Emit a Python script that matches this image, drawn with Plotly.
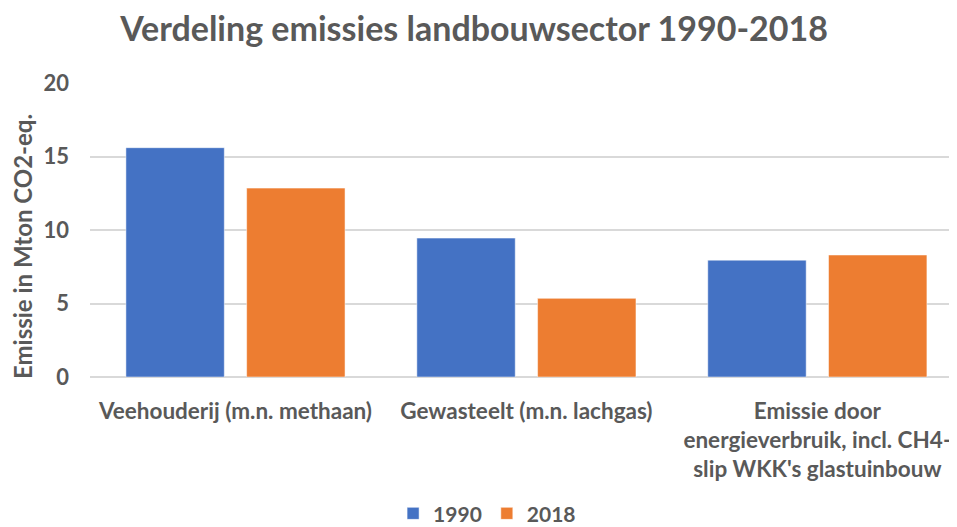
import plotly.graph_objects as go

categories = [
    "Veehouderij (m.n. methaan)",
    "Gewasteelt (m.n. lachgas)",
    "Emissie door<br>energieverbruik, incl. CH4-<br>slip WKK's glastuinbouw",
]
years = ["1990", "2018"]
values_1990 = [15.6, 9.45, 7.95]
values_2018 = [12.85, 5.35, 8.3]
y_ticks = [0, 5, 10, 15, 20]

grey = "#595959"
font_name = "Lato"

fig = go.Figure()
fig.add_trace(go.Bar(x=categories, y=values_1990, name=years[0], marker_color="#4472C4"))
fig.add_trace(go.Bar(x=categories, y=values_2018, name=years[1], marker_color="#ED7D31"))

# the page body adds an 8px offset, so margins are shifted accordingly
fig.update_layout(
    width=957,
    height=527,
    template="plotly_white",
    font=dict(family=font_name, color=grey, size=20, weight="bold"),
    title=dict(
        text="Verdeling emissies landbouwsector 1990-2018",
        x=0.487, xanchor="center", y=0.96, yanchor="middle",
        font=dict(size=34, color=grey, family=font_name, weight="bold"),
    ),
    margin=dict(l=82, r=8, t=75, b=158, autoexpand=False),
    barmode="group",
    bargap=0.17,
    bargroupgap=0.185,
    legend=dict(
        orientation="h", x=0.458, xanchor="center", y=-0.465, yanchor="middle",
        font=dict(size=21, color=grey, weight="bold"), itemwidth=30, traceorder="normal",
    ),
    plot_bgcolor="white",
)

# axis title drawn as annotation so it can sit a bit below the plot centre
fig.add_annotation(
    text="Emissie in Mton CO2-eq.",
    xref="paper", yref="paper", x=-0.0784, y=0.442,
    xanchor="center", yanchor="middle",
    textangle=-90, showarrow=False,
    font=dict(size=24, color=grey, weight="bold"),
)

fig.update_xaxes(
    range=[-0.5, 2.48],
    tickfont=dict(size=22.5, color=grey, weight="bold"),
    ticklabelstandoff=18,
    showline=False,
    showgrid=False,
)
fig.update_yaxes(
    range=[0, 20],
    tickvals=y_ticks,
    tickfont=dict(size=22, color=grey, weight="bold"),
    ticklabelstandoff=20,
    gridcolor="#D9D9D9",
    gridwidth=1.5,
    zeroline=True,
    zerolinecolor="#D9D9D9",
    zerolinewidth=1.5,
)

fig.write_html("out.html")
